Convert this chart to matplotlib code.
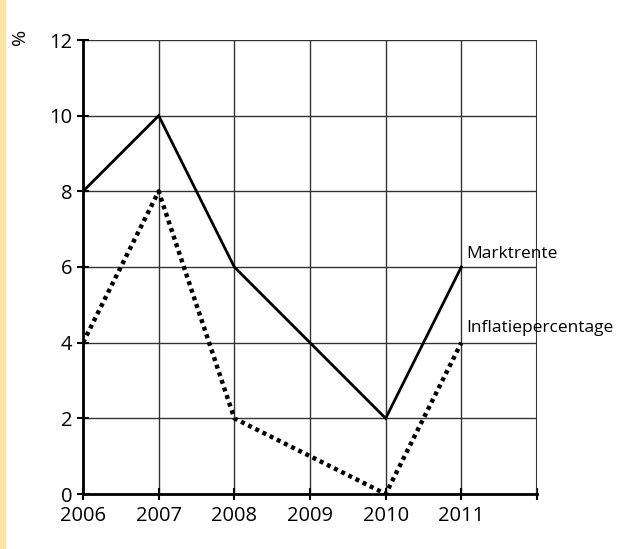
import matplotlib.pyplot as plt
from matplotlib.patches import Rectangle

years = [2006, 2007, 2008, 2009, 2010, 2011]
marktrente = [8, 10, 6, 4, 2, 6]
inflatie = [4, 8, 2, 1, 0, 4]
y_ticks = [0, 2, 4, 6, 8, 10, 12]

plt.rcParams["font.family"] = ["Open Sans", "DejaVu Sans"]

fig = plt.figure(figsize=(6.17, 5.49), dpi=100)
fig.patches.append(Rectangle((0, 0), 6 / 617, 1, transform=fig.transFigure,
                             facecolor="#fbe4ad", edgecolor="none"))
ax = fig.add_axes([83 / 617, 55 / 549, 454 / 617, 454 / 549])

ax.plot(years, marktrente, color="black", lw=2, solid_joinstyle="miter", zorder=3)
ax.plot(years, inflatie, color="black", lw=3.2, linestyle=(0, (0.9, 0.9)), zorder=3)

ax.set_xlim(2006, 2012)
ax.set_ylim(0, 12)
ax.set_xticks(years + [2012])
ax.set_xticklabels([str(y) for y in years] + [""])
ax.set_yticks(y_ticks)
ax.tick_params(direction="inout", length=9, width=1.5, labelsize=14.5)
ax.tick_params(axis="x", pad=4)
ax.tick_params(axis="y", pad=3)
ax.grid(True, color="#333333", lw=1)
ax.set_axisbelow(True)
for side in ["left", "bottom"]:
    ax.spines[side].set_linewidth(2)
for side in ["top", "right"]:
    ax.spines[side].set_visible(False)
ax.axvline(2012, color="#333333", lw=1.5, zorder=1)

ax.text(2011.06, 6.24, "Marktrente", fontsize=12.5, va="baseline", ha="left")
ax.text(2011.06, 4.29, "Inflatiepercentage", fontsize=12.5, va="baseline", ha="left",
        clip_on=False)

fig.text(20 / 617, 1 - 37 / 549, "%", rotation=90, fontsize=14, ha="center", va="center")

fig.savefig("out.png", dpi=100)
